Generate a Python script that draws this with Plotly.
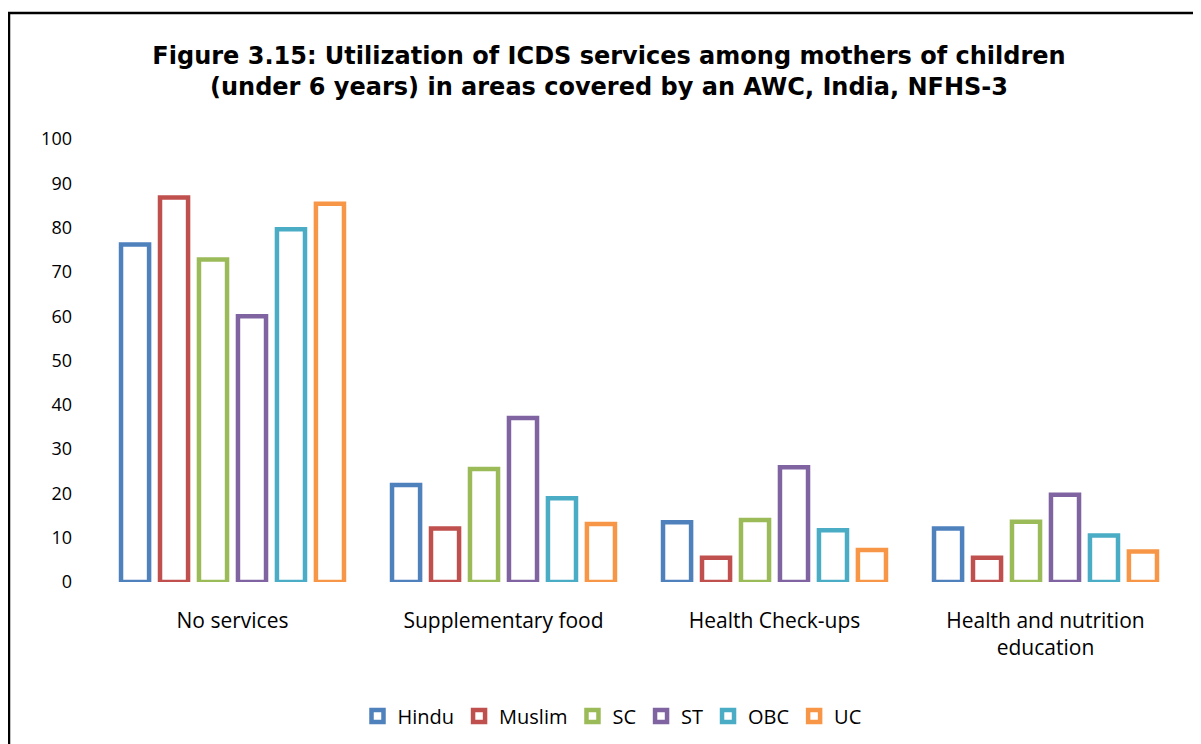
import plotly.graph_objects as go

categories = ['No services', 'Supplementary food', 'Health Check-ups',
              'Health and nutrition<br>education']

hindu = [76.2, 21.9, 13.5, 12.1]
muslim = [86.8, 12.1, 5.5, 5.5]
sc = [72.8, 25.5, 14.0, 13.6]
st = [60.0, 37.0, 25.9, 19.7]
obc = [79.6, 18.9, 11.7, 10.5]
uc = [85.4, 13.1, 7.2, 6.9]

series = [
    ('Hindu', hindu, '#4f81bd'),
    ('Muslim', muslim, '#c0504d'),
    ('SC', sc, '#9bbb59'),
    ('ST', st, '#8064a2'),
    ('OBC', obc, '#4bacc6'),
    ('UC', uc, '#f79646'),
]

# page has an 8px body margin, so the figure is a bit smaller than the window
OFF = 8
W, H = 1201 - OFF, 744 - OFF
ml, mr, mt, mb = 97 - OFF, 20, 139 - OFF, 162

fig = go.Figure()

for name, vals, col in series:
    fig.add_trace(go.Bar(
        x=categories,
        y=vals,
        name=name,
        marker=dict(color='white', line=dict(color=col, width=4.5)),
        hovertemplate='%{x}<br>' + name + ': %{y}<extra></extra>'
    ))

# outer frame of the chart (page pixel -> paper)
pw = W - ml - mr
ph = H - mt - mb
def px(x):
    return (x - OFF - ml) / pw
def py(y):
    return (H - mb - (y - OFF)) / ph

fig.add_shape(type='rect', xref='paper', yref='paper',
              x0=px(9), x1=px(1230), y0=py(13), y1=py(770),
              line=dict(color='black', width=2.5), fillcolor='rgba(0,0,0,0)',
              layer='below')

fig.update_layout(
    width=W, height=H,
    margin=dict(l=ml, r=mr, t=mt, b=mb, autoexpand=False),
    paper_bgcolor='white',
    plot_bgcolor='white',
    barmode='group',
    bargap=0.137,
    bargroupgap=0.28,
    title=dict(
        text='Figure 3.15: Utilization of ICDS services among mothers of children<br>'
             '(under 6 years) in areas covered by an AWC, India, NFHS-3',
        x=px(609), xanchor='center', xref='paper',
        y=1 - (64 - OFF) / H, yanchor='middle',
        font=dict(family='DejaVu Sans', size=24, color='black', weight='bold')
    ),
    font=dict(family='Open Sans', color='black'),
    xaxis=dict(
        showgrid=False, showline=False, zeroline=False,
        ticklabelstandoff=24,
        tickfont=dict(size=21, family='Open Sans', color='black')
    ),
    yaxis=dict(
        range=[0, 100], dtick=10,
        showgrid=False, showline=False, zeroline=False,
        ticklabelstandoff=24,
        tickfont=dict(size=18, family='Open Sans', color='black')
    ),
    legend=dict(
        orientation='h',
        x=px(612), xanchor='center',
        yref='container', y=1 - (716 - OFF) / H, yanchor='middle',
        font=dict(size=20, family='Open Sans', color='black'),
        itemwidth=30,
        traceorder='normal'
    ),
    showlegend=True
)

fig.write_html("out.html")
